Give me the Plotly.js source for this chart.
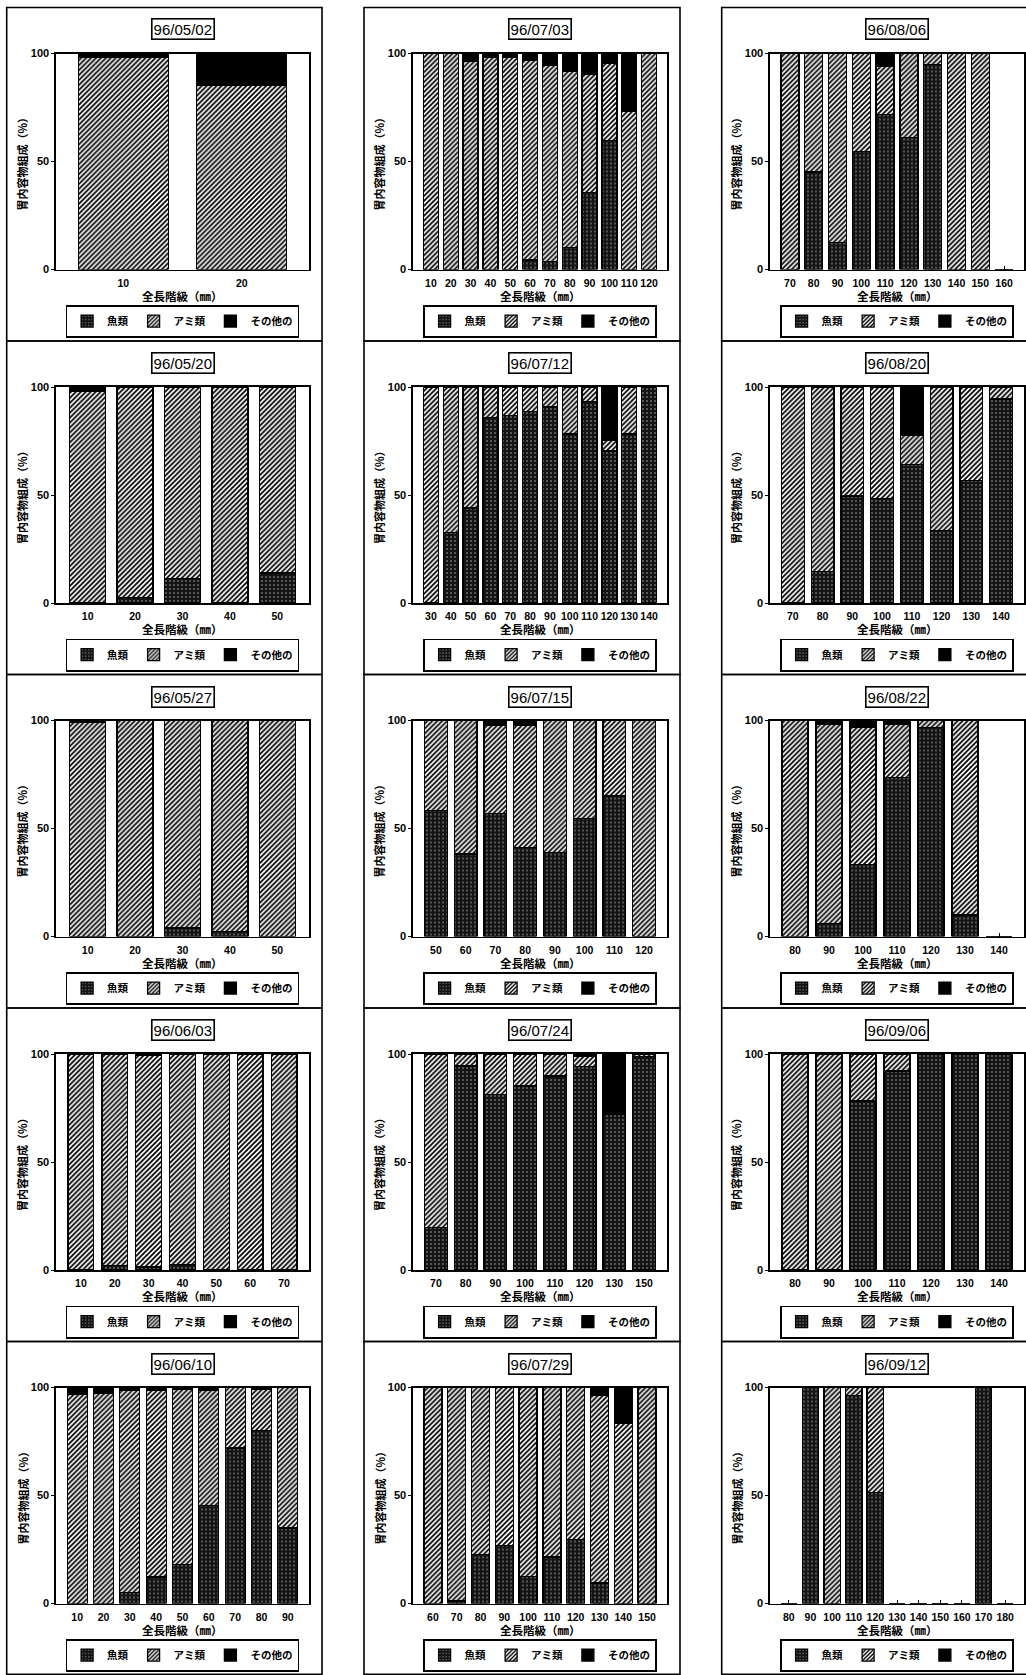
<!DOCTYPE html>
<html><head><meta charset="utf-8">
<script src="https://cdn.plot.ly/plotly-3.0.1.min.js"></script>
<style>html,body{margin:0;padding:0;background:#fff}</style>
</head><body>
<div id="chart" style="width:1026px;height:1675px"></div>
<script>
// ---------------- data ----------------
const dates = ['96/05/02','96/05/20','96/05/27','96/06/03','96/06/10',
               '96/07/03','96/07/12','96/07/15','96/07/24','96/07/29',
               '96/08/06','96/08/20','96/08/22','96/09/06','96/09/12'];
const categories = [
 [10,20],
 [10,20,30,40,50],
 [10,20,30,40,50],
 [10,20,30,40,50,60,70],
 [10,20,30,40,50,60,70,80,90],
 [10,20,30,40,50,60,70,80,90,100,110,120],
 [30,40,50,60,70,80,90,100,110,120,130,140],
 [50,60,70,80,90,100,110,120],
 [70,80,90,100,110,120,130,150],
 [60,70,80,90,100,110,120,130,140,150],
 [70,80,90,100,110,120,130,140,150,160],
 [70,80,90,100,110,120,130,140],
 [80,90,100,110,120,130,140],
 [80,90,100,110,120,130,140],
 [80,90,100,110,120,130,140,150,160,170,180]
];
const fishValues = [
 [0,0],
 [0,2.4,11.3,0,13.9],
 [0,0,4,2.2,0],
 [0,2,1.4,2.4,0,0,0],
 [0,0,5.1,12.3,18.1,45.4,72,80,35],
 [0,0,0,0,0,4.4,3.6,10.3,35.6,59.8,0,0],
 [0,32.5,44,86,86.7,88.7,90.7,78.2,93.2,70.4,78.2,100],
 [58.3,38.2,57.1,41.2,38.8,54.7,65,0],
 [19.7,94.5,81.3,85.2,89.8,94.1,71.9,99],
 [0,1.2,22.7,26.8,12.6,21.5,29.6,9.5,0,0],
 [0,45.1,12.5,54.5,71.9,61,95,0,0,0],
 [0,14.5,49.5,48.5,64,33.7,56.8,94.5],
 [0,6,33.3,73.5,96.6,10,0],
 [0,0,78.3,92.1,100,100,100],
 [0,100,0,96.3,51.4,0,0,0,0,100,0]
];
const mysidValues = [
 [98.4,85.1],
 [98,97.6,88.7,100,86.1],
 [99,100,96,97.8,100],
 [100,98,98,97.6,100,100,100],
 [96.6,97.4,93.4,86.2,80.9,53.1,28,19,65],
 [100,100,96.5,98.4,98,92.6,90.9,81.4,54.9,35.6,73.3,100],
 [100,67.5,56,14,13.3,11.3,9.3,21.8,6.8,5,21.8,0],
 [41.7,61.8,40.7,56.6,61.2,45.3,35,100],
 [80.3,5.5,18.7,14.8,10.2,4.9,0,1],
 [100,98.8,77.3,73.2,87.4,78.5,70.4,86.7,83.6,100],
 [100,54.9,87.5,45.5,22.1,39,5,100,100,0],
 [100,85.5,50.5,51.5,13.8,66.3,43.2,5.5],
 [100,92.4,63.7,24.9,3.4,90,0],
 [100,100,21.7,7.9,0,0,0],
 [0,0,100,3.7,48.6,0,0,0,0,0,0]
];
const otherValues = [
 [1.6,14.9],
 [2,0,0,0,0],
 [1,0,0,0,0],
 [0,0,0.6,0,0,0,0],
 [3.4,2.6,1.5,1.5,1,1.5,0,1,0],
 [0,0,3.5,1.6,2,3,5.5,8.3,9.5,4.6,26.7,0],
 [0,0,0,0,0,0,0,0,0,24.6,0,0],
 [0,0,2.2,2.2,0,0,0,0],
 [0,0,0,0,0,1,28.1,0],
 [0,0,0,0,0,0,0,3.8,16.4,0],
 [0,0,0,0,6,0,0,0,0,0],
 [0,0,0,0,22.2,0,0,0],
 [0,1.6,3,1.6,0,0,0],
 [0,0,0,0,0,0,0],
 [0,0,0,0,0,0,0,0,0,0,0]
];
const seriesNames = ['魚類','アミ類','その他の'];
const yTickVals = [0,50,100];
const yTitleText = '胃内容物組成（%）';
const xTitleText = '全長階級（㎜）';

// ---------------- layout geometry ----------------
const W = 1026, H = 1675;
const colPlotX = [[56,309],[413,667],[770,1024]];
const colPanelX = [[6.7,322],[364,680],[721.7,1040]];
const rowTop0 = 7.5, rowH = 333.5;
const PAD = 8;
const px = v => v / W;
const py = v => 1 - v / H;

const styles = [
  {color:'#141414', line:{color:'#000',width:1.3},
   pattern:{shape:'.', fgcolor:'#a8a8a8', bgcolor:'#141414', size:4, solidity:0.13, fillmode:'replace'}},
  {color:'#fff', line:{color:'#000',width:1.3},
   pattern:{shape:'/', fgcolor:'#000', bgcolor:'#fff', size:3.5, solidity:0.5, fillmode:'replace'}},
  {color:'#000', line:{color:'#000',width:1.3}}
];

const xTickFont = {family:'Liberation Sans, Arial, sans-serif', size:10.5, weight:'bold', color:'#000'};
const yTickFont = {family:'Liberation Sans, Arial, sans-serif', size:11, weight:'bold', color:'#000'};
const jpFont = 'Noto Sans CJK JP, sans-serif';

const traces = [];
const layout = {
  width: W, height: H, autosize:false,
  margin:{l:0,r:0,t:0,b:0},
  paper_bgcolor:'#fff', plot_bgcolor:'#fff',
  barmode:'stack', bargap:0.24,
  showlegend:true,
  annotations:[], shapes:[]
};

dates.forEach((date, i) => {
  const col = Math.floor(i / 5), row = i % 5;
  const sfx = i === 0 ? '' : String(i + 1);
  const legId = 'legend' + sfx;
  const rowTop = rowTop0 + rowH * row;
  const [xl, xr] = colPlotX[col];
  const cx = (xl + xr) / 2;
  const n = categories[i].length;
  const padU = PAD * n / ((xr - xl) - 2 * PAD);
  const xs = categories[i].map(String);
  const vals = [fishValues[i], mysidValues[i], otherValues[i]];

  vals.forEach((v, s) => {
    traces.push({
      type:'bar', x: xs, y: v, name: seriesNames[s],
      xaxis:'x' + sfx, yaxis:'y' + sfx, legend: legId,
      marker: styles[s], hoverinfo:'skip'
    });
  });

  layout['xaxis' + sfx] = {
    domain:[px(xl), px(xr)], anchor:'y' + sfx, type:'category',
    range:[-0.5 - padU, n - 0.5 + padU], fixedrange:true,
    ticks:'inside', ticklen:4, tickcolor:'#000', tickwidth:1,
    showline:true, mirror:true, linecolor:'#000', linewidth:1.6,
    showgrid:false, zeroline:false, tickangle:0,
    tickfont: xTickFont, ticklabelstandoff:3, layer:'below traces'
  };
  layout['yaxis' + sfx] = {
    domain:[py(rowTop + 262), py(rowTop + 46)], anchor:'x' + sfx,
    range:[0,100], tickvals: yTickVals, fixedrange:true,
    ticks:'outside', ticklen:3, tickcolor:'#000', tickwidth:1,
    showline:true, mirror:true, linecolor:'#000', linewidth:1.6,
    showgrid:false, zeroline:false,
    tickfont: yTickFont, layer:'below traces'
  };
  layout[legId] = {
    x: px(cx), xanchor:'center', y: py(rowTop + 314), yanchor:'middle',
    orientation:'h', bgcolor:'#fff', bordercolor:'#000', borderwidth:1.6,
    font:{family: jpFont, size:10.5, weight:'bold', color:'#000'},
    itemwidth:30, itemclick:false, itemdoubleclick:false, traceorder:'normal'
  };
  layout.annotations.push({
    xref:'paper', yref:'paper', x: px(cx), y: py(rowTop + 22),
    text: date, showarrow:false, xanchor:'center', yanchor:'middle',
    font:{family:'Liberation Sans, Arial, sans-serif', size:15, color:'#000'},
    bordercolor:'#000', borderwidth:1.6, borderpad:1, bgcolor:'#fff'
  });
  layout.annotations.push({
    xref:'paper', yref:'paper', x: px(cx), y: py(rowTop + 288),
    text: xTitleText, showarrow:false, xanchor:'center', yanchor:'middle',
    font:{family: jpFont, size:11.5, weight:'bold', color:'#000'}
  });
  layout.annotations.push({
    xref:'paper', yref:'paper', x: px(xl - 34), y: py(rowTop + 154),
    text: yTitleText, showarrow:false, textangle:-90,
    xanchor:'center', yanchor:'middle',
    font:{family: jpFont, size:11, weight:'bold', color:'#000'}
  });
  const [pl, pr] = colPanelX[col];
  layout.shapes.push({
    type:'rect', xref:'paper', yref:'paper',
    x0: px(pl), x1: px(pr), y0: py(Math.min(rowTop + rowH, H - 0.75)), y1: py(rowTop),
    line:{color:'#000', width:1.6}, fillcolor:'rgba(0,0,0,0)', layer:'below'
  });
});

Plotly.newPlot('chart', traces, layout, {displayModeBar:false, staticPlot:true});
</script>
</body></html>
